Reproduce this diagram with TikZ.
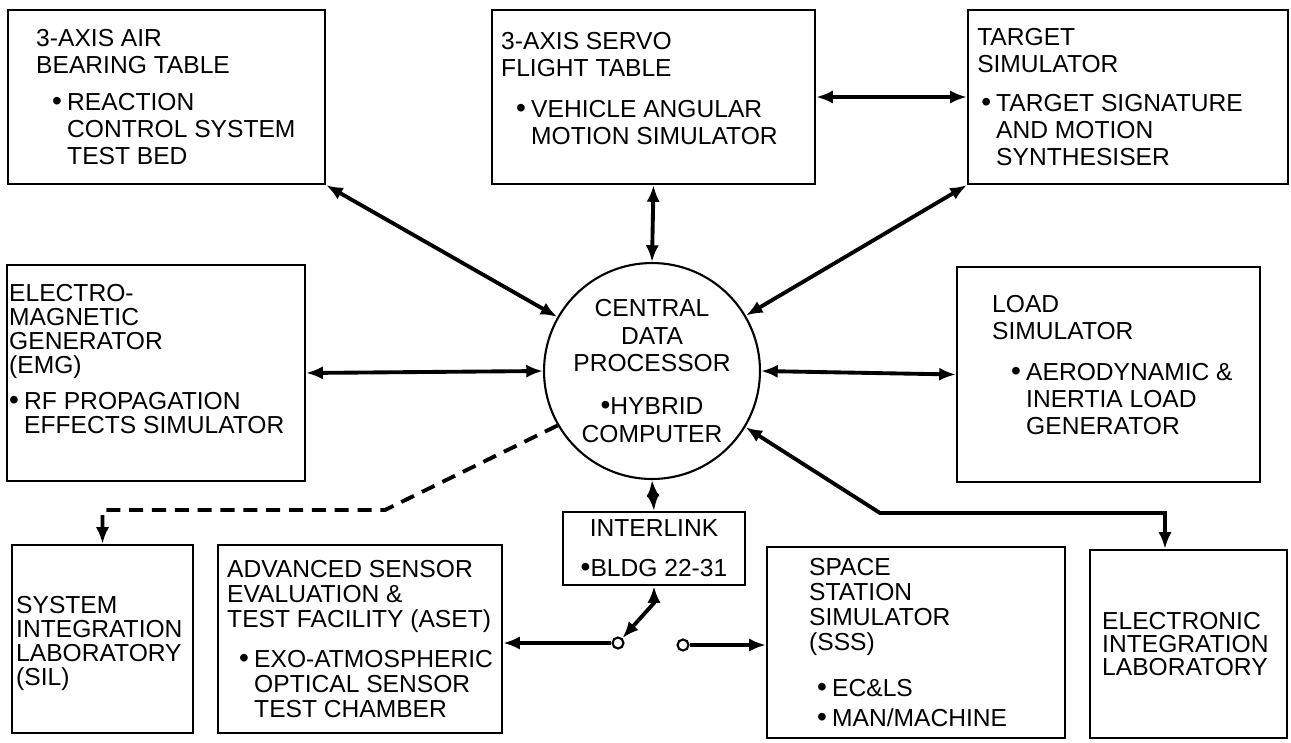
\documentclass[tikz,border=0pt]{standalone}
\usepackage{fontspec}
\setmainfont{Liberation Sans}
\usetikzlibrary{arrows.meta, positioning}
\tikzstyle{box}  = [rectangle, draw=black, line width=1.3pt, inner sep=0pt]
\tikzstyle{txt}  = [align=left, inner sep=0pt, font=\fontsize{14}{15.3}\selectfont]
\tikzstyle{hub}  = [circle, draw=black, line width=1.2pt, minimum size=4.32cm,
                    inner sep=0pt, align=center, font=\fontsize{14}{15.9}\selectfont]
\tikzstyle{swc}  = [circle, draw=black, line width=1.2pt, fill=white,
                    minimum size=0.22cm, inner sep=0pt]
\tikzstyle{arr}  = [-{Latex[length=9.5pt,width=7.5pt]}, line width=2.2pt]
\tikzstyle{darr} = [{Latex[length=9.5pt,width=7.5pt]}-{Latex[length=9.5pt,width=7.5pt]},
                    line width=2.2pt]
\tikzstyle{dsh}  = [-{Latex[length=9.5pt,width=7.5pt]}, line width=2.2pt,
                    dash pattern=on 8pt off 5pt]
\newcommand{\bdot}{{\fontsize{16}{14}\selectfont\textbullet}}
\newcommand{\bitem}[1]{\hspace*{#1}\makebox[0.3cm][l]{\bdot}}
\newcommand{\bcont}[1]{\hspace*{#1}\hspace*{0.3cm}}

\begin{document}
\begin{tikzpicture}[x=0.02cm, y=-0.02cm]
  \useasboundingbox (0,0) rectangle (1291,743);

  %% ── Top row ───────────────────────────────────────────────────
  \node[box, minimum width=6.34cm, minimum height=3.48cm] (ab) at (166.5,97) {};
  \node[box, minimum width=6.46cm, minimum height=3.48cm] (sv) at (653.5,97) {};
  \node[box, minimum width=6.40cm, minimum height=3.48cm] (tg) at (1128,97) {};

  \node[txt, right=0.58cm of ab.west] (abtxt)
      {3-AXIS AIR\\BEARING TABLE\\[0.2cm]\bitem{0.32cm}REACTION\\
       \bcont{0.32cm}CONTROL SYSTEM\\\bcont{0.32cm}TEST BED};
  \node[txt, right=0.2cm of sv.west, yshift=0.17cm] (svtxt)
      {3-AXIS SERVO\\FLIGHT TABLE\\[0.3cm]\bitem{0.3cm}VEHICLE ANGULAR\\
       \bcont{0.3cm}MOTION SIMULATOR};
  \node[txt, right=0.2cm of tg.west] (tgtxt)
      {TARGET\\SIMULATOR\\[0.24cm]\bitem{0.08cm}TARGET SIGNATURE\\
       \bcont{0.08cm}AND MOTION\\\bcont{0.08cm}SYNTHESISER};

  %% ── Middle row ────────────────────────────────────────────────
  \node[box, minimum width=5.96cm, minimum height=4.32cm] (emg) at (156,373) {};
  \node[box, minimum width=6.06cm, minimum height=4.30cm] (ld) at (1108.5,374.5) {};
  \node[hub] (cdp) at (652,371)
      {CENTRAL\\DATA\\PROCESSOR\\[0.3cm]\bdot HYBRID\\COMPUTER};

  \node[txt, font=\fontsize{14}{13.6}\selectfont,
        right=0.06cm of emg.west, yshift=0.28cm] (emgtxt)
      {ELECTRO-\\MAGNETIC\\GENERATOR\\(EMG)\\[0.24cm]\bitem{0cm}RF PROPAGATION\\
       \bcont{0cm}EFFECTS SIMULATOR};
  \node[txt, right=0.72cm of ld.west, yshift=0.19cm] (ldtxt)
      {LOAD\\SIMULATOR\\[0.28cm]\bitem{0.38cm}AERODYNAMIC \&\\
       \bcont{0.38cm}INERTIA LOAD\\\bcont{0.38cm}GENERATOR};

  %% ── Bottom row ────────────────────────────────────────────────
  \node[box, align=center, minimum width=3.64cm, minimum height=1.46cm,
        font=\fontsize{14}{15.3}\selectfont] (il) at (654,548.5)
      {INTERLINK\\[0.26cm]\bdot BLDG 22-31};
  \node[box, minimum width=3.62cm, minimum height=3.76cm] (sil) at (102.5,639) {};
  \node[box, minimum width=5.68cm, minimum height=3.76cm] (aset) at (360,639) {};
  \node[box, minimum width=5.96cm, minimum height=3.82cm] (sss) at (916,642.5) {};
  \node[box, minimum width=3.94cm, minimum height=3.76cm] (eil) at (1188.5,644) {};

  \node[txt, font=\fontsize{14}{13.8}\selectfont,
        right=0.1cm of sil.west, yshift=-0.09cm] (siltxt)
      {SYSTEM\\INTEGRATION\\LABORATORY\\(SIL)};
  \node[txt, font=\fontsize{14}{14.2}\selectfont, right=0.2cm of aset.west] (asettxt)
      {ADVANCED SENSOR\\EVALUATION \&\\TEST FACILITY (ASET)\\[0.3cm]
       \bitem{0.24cm}EXO-ATMOSPHERIC\\\bcont{0.24cm}OPTICAL SENSOR\\
       \bcont{0.24cm}TEST CHAMBER};
  \node[txt, font=\fontsize{14}{14.2}\selectfont, right=0.86cm of sss.west] (ssstxt)
      {SPACE\\STATION\\SIMULATOR\\(SSS)\\[0.42cm]\bitem{0.16cm}EC\&LS\\[0.1cm]
       \bitem{0.16cm}MAN/MACHINE};
  \node[txt, font=\fontsize{14}{13}\selectfont, right=0.26cm of eil.west] (eiltxt)
      {ELECTRONIC\\INTEGRATION\\LABORATORY};

  %% switch contacts
  \node[swc] (piv) at (618,643) {};
  \node[swc] (cnt) at (683,645) {};
  \coordinate (swk) at (654,603);

  %% ── Links to the central processor ────────────────────────────
  \draw[darr] (ab.south east) -- (cdp);
  \draw[darr] (sv.south) -- (cdp.north);
  \draw[darr] (tg.south west) -- (cdp);
  \draw[darr] (sv.east) -- (tg.west);
  \draw[darr] (emg.east) -- (cdp.west);
  \draw[darr] (cdp.east) -- (ld.west);
  \draw[darr] (cdp.south) -- (il.north);
  \draw[darr] (cdp.-31) -- (880,513) -| ([xshift=-0.47cm]eil.north);
  \draw[dsh] (cdp.210) -- (385,510) -| (sil.north);

  %% interlink switch
  \draw[darr] (il.south) -- (swk) -- (piv);
  \draw[arr] (piv) -- (piv -| aset.east);
  \draw[arr] (cnt) -- (cnt -| sss.west);

\end{tikzpicture}
\end{document}
